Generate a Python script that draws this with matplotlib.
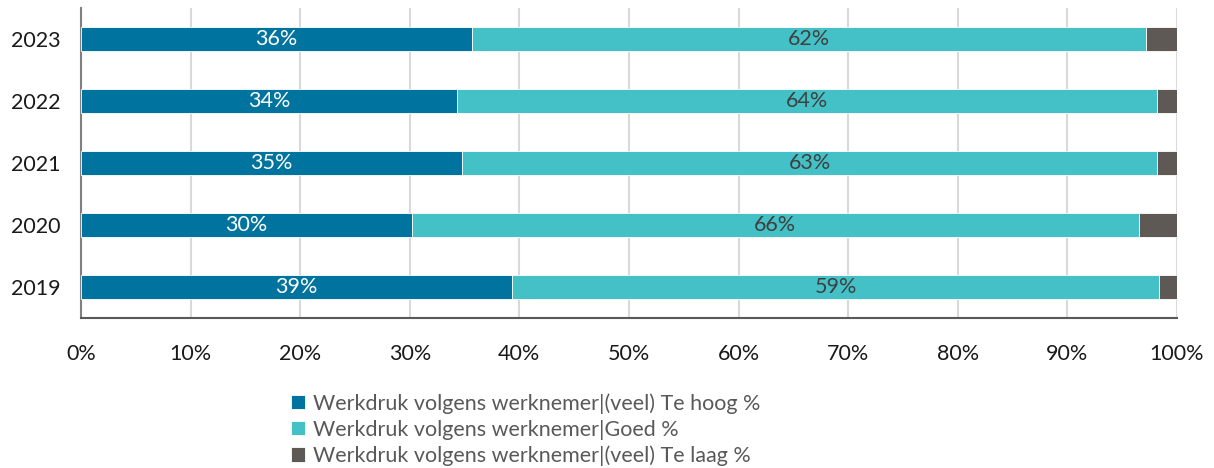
import numpy as np
import matplotlib.pyplot as plt

plt.rcParams['font.family'] = ['Lato', 'DejaVu Sans']

jaren = ['2019', '2020', '2021', '2022', '2023']
te_hoog = [39.3, 30.2, 34.8, 34.3, 35.7]
goed = [59.1, 66.3, 63.4, 63.9, 61.5]
te_laag = [1.6, 3.5, 1.8, 1.8, 2.8]
namen = ['Werkdruk volgens werknemer|(veel) Te hoog %',
         'Werkdruk volgens werknemer|Goed %',
         'Werkdruk volgens werknemer|(veel) Te laag %']
kleuren = ['#00739F', '#43C1C6', '#5F5955']
tekstkleur = ['white', '#404040']

fig = plt.figure(figsize=(12.14, 4.68), dpi=100)
ax = fig.add_axes([0.0667, 0.3205, 0.9028, 0.6625])

y = np.arange(len(jaren))
links = np.zeros(len(jaren))
for i, reeks in enumerate([te_hoog, goed, te_laag]):
    ax.barh(y, reeks, left=links, height=0.4, color=kleuren[i],
            edgecolor='white', linewidth=0.6, label=namen[i], zorder=3)
    if i < 2:
        # percentages midden in het segment
        for j, v in enumerate(reeks):
            ax.text(links[j] + v / 2, y[j], '%d%%' % round(v), ha='center', va='center',
                    color=tekstkleur[i], fontsize=15.5, zorder=4)
    links += np.array(reeks)

ax.set_xlim(0, 100)
ax.set_ylim(-0.5, 4.5)
ax.set_yticks(y)
ax.set_yticklabels(jaren, fontsize=15.5, color='#1a1a1a')
ax.set_xticks(np.arange(0, 101, 10))
ax.set_xticklabels(['%d%%' % t for t in range(0, 101, 10)], fontsize=15.5, color='#1a1a1a')
ax.tick_params(axis='both', length=0)
ax.tick_params(axis='x', pad=19)
ax.tick_params(axis='y', pad=15)
ax.grid(axis='x', color='#D9D9D9', linewidth=1.5, zorder=0)
ax.set_axisbelow(True)
for s in ['top', 'right']:
    ax.spines[s].set_visible(False)
ax.spines['left'].set_color('#808080')
ax.spines['left'].set_linewidth(1.5)
ax.spines['bottom'].set_color('#595959')
ax.spines['bottom'].set_linewidth(1.5)

handles, labels = ax.get_legend_handles_labels()
leg = fig.legend(handles, labels, loc='upper left', bbox_to_anchor=(291 / 1214, 1 - 393 / 468),
                 frameon=False, fontsize=15.5, handlelength=0.65, handleheight=0.65,
                 handletextpad=0.35, labelspacing=0.28, borderpad=0, borderaxespad=0)
for t in leg.get_texts():
    t.set_color('#595959')

fig.savefig('out.png', dpi=100)
